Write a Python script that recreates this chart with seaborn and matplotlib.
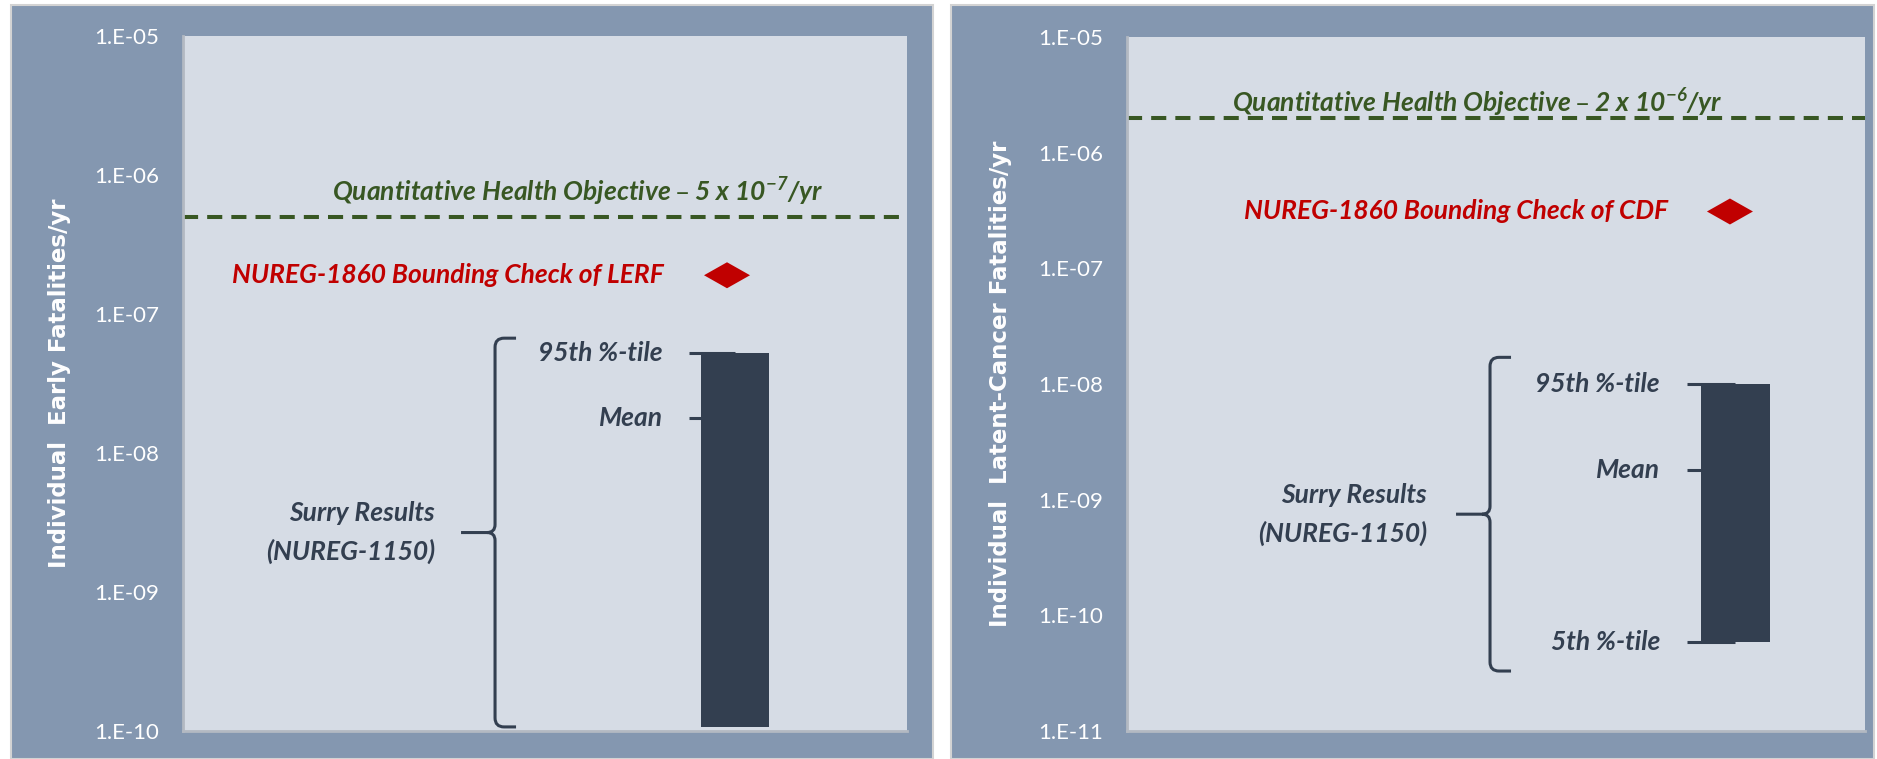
import numpy as np
import matplotlib
matplotlib.use("Agg")
import matplotlib.pyplot as plt
import seaborn as sns
from matplotlib.markers import MarkerStyle
from matplotlib.patches import Rectangle, PathPatch
from matplotlib.path import Path
from matplotlib.ticker import NullLocator
from matplotlib.transforms import IdentityTransform

# ---- values, one entry per panel: [early fatalities, latent-cancer fatalities] ----
y_titles = ["Individual  Early Fatalities/yr", "Individual  Latent-Cancer Fatalities/yr"]
y_min = [1e-10, 1e-11]
y_max = [1e-5, 1e-5]
qho_value = [5e-7, 2e-6]
qho_text = ["Quantitative Health Objective – 5 x 10$^{-7}$/yr",
            "Quantitative Health Objective – 2 x 10$^{-6}$/yr"]
bounding_value = [1.9e-7, 3.1e-7]
bounding_text = ["NUREG-1860 Bounding Check of LERF", "NUREG-1860 Bounding Check of CDF"]
surry_p95 = [5.2e-8, 1.0e-8]
surry_mean = [1.8e-8, 1.8e-9]
surry_p5 = [1.07e-10, 5.9e-11]
percentile_labels = [["95th %-tile", "Mean"], ["95th %-tile", "Mean", "5th %-tile"]]
brace_low = [1.07e-10, 3.3e-11]
brace_high = [6.7e-8, 1.7e-8]
surry_text = "Surry Results\n(NUREG-1150)"

# ---- styling ----
W, H, DPI = 1877, 759, 100
PANEL = "#8497B0"
PLOT_BG = "#D6DCE5"
DARK = "#333F50"
GREEN = "#385723"
RED = "#C00000"
ANNOT_FONT = ["Lato", "DejaVu Sans"]

sns.set_theme(style="white")
plt.rcParams["font.family"] = ANNOT_FONT
plt.rcParams["mathtext.default"] = "regular"

# pixel frames of each panel and plot area, plus positions (axes fraction) of annotations
layout = [
    dict(panel=(11, 933), plot=(183, 907, 36, 731), ylabel_x=-0.170,
         qho_x=0.5456, qho_off=18, bound_text_x=0.6644, diamond_x=0.7514,
         bar_x=0.7624, bar_w=0.0939, tick_x=0.699, pct_text_x=0.663,
         brace_x=0.431, surry_x=0.348),
    dict(panel=(951, 1874), plot=(1127, 1865, 37, 731), ylabel_x=-0.172,
         qho_x=0.4743, qho_off=11, bound_text_x=0.733, diamond_x=0.817,
         bar_x=0.8245, bar_w=0.0935, tick_x=0.7588, pct_text_x=0.7222,
         brace_x=0.4919, surry_x=0.4065),
]

diamond = MarkerStyle(Path([(-1, 0), (0, 0.565), (1, 0), (0, -0.565), (-1, 0)],
                           [Path.MOVETO, Path.LINETO, Path.LINETO, Path.LINETO, Path.CLOSEPOLY]))

txt_kw = dict(fontsize=19, fontweight="bold", fontstyle="italic", family=ANNOT_FONT)

fig = plt.figure(figsize=(W / DPI, H / DPI), dpi=DPI, facecolor="white")


def draw_brace(ax, xfrac, lo, hi, color):
    """Curly brace drawn in pixel space between two data values."""
    x = ax.transAxes.transform((xfrac, 0))[0]
    y_lo = ax.transData.transform((0.5, lo))[1]
    y_hi = ax.transData.transform((0.5, hi))[1]
    y_mid = 0.5 * (y_lo + y_hi)
    r, hook, kink, tip = 9, 21, 8, 34
    verts = [
        (x + hook, y_hi), (x + r, y_hi), (x, y_hi), (x, y_hi - r),
        (x, y_mid + kink), (x, y_mid), (x - kink, y_mid),
        (x - tip, y_mid),
        (x - kink, y_mid), (x, y_mid), (x, y_mid - kink),
        (x, y_lo + r), (x, y_lo), (x + r, y_lo), (x + hook, y_lo),
    ]
    codes = [
        Path.MOVETO, Path.LINETO, Path.CURVE3, Path.CURVE3,
        Path.LINETO, Path.CURVE3, Path.CURVE3,
        Path.LINETO,
        Path.MOVETO, Path.CURVE3, Path.CURVE3,
        Path.LINETO, Path.CURVE3, Path.CURVE3, Path.LINETO,
    ]
    patch = PathPatch(Path(verts, codes), fill=False, edgecolor=color, lw=2.2,
                      transform=IdentityTransform(), clip_on=False, zorder=5)
    ax.add_artist(patch)


for i, lay in enumerate(layout):
    px0, px1 = lay["panel"]
    fig.patches.append(Rectangle((px0 / W, 0), (px1 - px0) / W, (H - 5) / H,
                                 transform=fig.transFigure, facecolor=PANEL,
                                 edgecolor="#D3D3D3", lw=1.5, zorder=-1))
    l, r, t, b = lay["plot"]
    ax = fig.add_axes([l / W, (H - b) / H, (r - l) / W, (b - t) / H])
    ax.set_facecolor(PLOT_BG)
    ax.set_yscale("log")
    ax.set_ylim(y_min[i], y_max[i])
    ax.set_xlim(0, 1)
    for side in ("top", "right"):
        ax.spines[side].set_visible(False)
    for side in ("left", "bottom"):
        ax.spines[side].set_color("#B3B9C2")
        ax.spines[side].set_linewidth(2)

    exps = np.arange(int(round(np.log10(y_min[i]))), int(round(np.log10(y_max[i]))) + 1)
    decades = 10.0 ** exps
    ax.set_yticks(decades, labels=[f"1.E-{-e:02d}" for e in exps])
    ax.yaxis.set_minor_locator(NullLocator())
    ax.tick_params(axis="y", length=0, pad=17, labelsize=16, labelcolor="white",
                   labelfontfamily="Lato")
    ax.set_xticks([])
    ax.grid(False)

    ax.set_ylabel(y_titles[i], family="DejaVu Sans", fontweight="bold",
                  fontsize=16.5, color="white", va="center", ha="center")
    ax.yaxis.set_label_coords(lay["ylabel_x"], 0.5)

    # quantitative health objective
    ax.axhline(qho_value[i], color=GREEN, lw=2.9, ls=(0, (3.75, 2.25)), zorder=2)
    ax.annotate(qho_text[i], xy=(lay["qho_x"], qho_value[i]),
                xytext=(0, lay["qho_off"]), textcoords="offset points",
                ha="center", va="center", color=GREEN, **txt_kw)

    # NUREG-1860 bounding check
    sns.scatterplot(x=[lay["diamond_x"]], y=[bounding_value[i]], ax=ax,
                    marker=diamond, s=1097, color=RED, edgecolor="none",
                    linewidth=0, legend=False, zorder=4)
    ax.text(lay["bound_text_x"], bounding_value[i], bounding_text[i],
            ha="right", va="center", color=RED, **txt_kw)

    # Surry uncertainty range (5th to 95th percentile)
    ax.bar(lay["bar_x"], surry_p95[i] - surry_p5[i], width=lay["bar_w"],
           bottom=surry_p5[i], color=DARK, linewidth=0, zorder=3)
    pct_values = [surry_p95[i], surry_mean[i], surry_p5[i]]
    for lab, val in zip(percentile_labels[i], pct_values):
        ax.plot([lay["tick_x"], lay["bar_x"]], [val, val], color=DARK, lw=2.2,
                solid_capstyle="butt", zorder=2)
        ax.text(lay["pct_text_x"], val, lab, ha="right", va="center",
                color=DARK, **txt_kw)

    draw_brace(ax, lay["brace_x"], brace_low[i], brace_high[i], DARK)
    ax.text(lay["surry_x"], np.sqrt(brace_low[i] * brace_high[i]), surry_text,
            ha="right", va="center", multialignment="right", linespacing=1.65,
            color=DARK, **txt_kw)

fig.savefig("out.png", dpi=DPI, facecolor=fig.get_facecolor())
